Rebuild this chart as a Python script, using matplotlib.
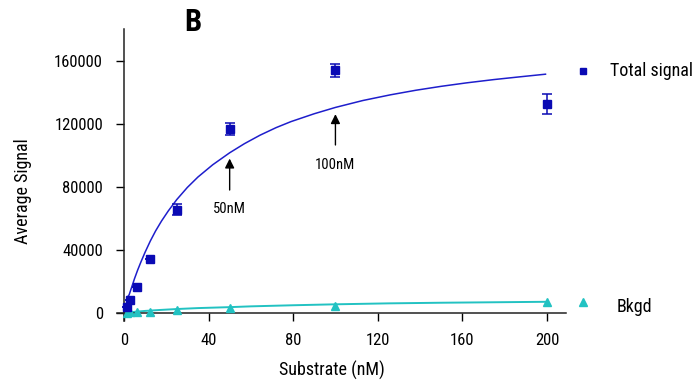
import matplotlib as mpl
import matplotlib.pyplot as plt
from matplotlib import font_manager

# the original uses a narrow sans; take a condensed face if one is installed
names = {f.name for f in font_manager.fontManager.ttflist}
condensed = [f for f in font_manager.fontManager.ttflist
             if f.name == 'DejaVu Sans' and 'condensed' in str(f.stretch)]
narrow = None
for cand in ['Liberation Sans Narrow', 'DejaVu Sans Condensed', 'Roboto Condensed',
             'Open Sans Condensed', 'Noto Sans Condensed']:
    if cand in names:
        narrow = cand
        break
if narrow:
    mpl.rcParams['font.family'] = [narrow, 'DejaVu Sans']
    k = 1.0
elif condensed:
    mpl.rcParams['font.family'] = ['DejaVu Sans']
    mpl.rcParams['font.stretch'] = 'condensed'
    k = 0.92
else:
    mpl.rcParams['font.family'] = ['DejaVu Sans']
    k = 0.82

# substrate concentrations (nM)
substrate = [1.56, 3.125, 6.25, 12.5, 25, 50, 100, 200]
total_signal = [3800, 8400, 16900, 34700, 65800, 117200, 154300, 132900]
total_err = [0, 0, 0, 0, 3500, 3700, 4000, 6100]
bkgd_signal = [300, 500, 800, 900, 2100, 3200, 4600, 7000]

# fitted curves
fit_x = [1.56, 2.5, 3.5, 5, 6.5, 8, 10, 12.5, 15, 17.8, 21, 25, 30, 35, 42, 50, 57,
         64.4, 72, 79, 90, 100, 113, 126, 138, 150, 162, 175, 187, 199.3]
fit_total = [10000, 11800, 15800, 21900, 27400, 32400, 38700, 45900, 52300, 58600,
             65000, 72200, 79900, 86500, 94300, 101900, 107700, 113100, 117900, 121700,
             126700, 130700, 135100, 138700, 141600, 144100, 146300, 148400, 150100,
             151800]
bkgd_fit_x = [1.56, 5, 10, 17, 25, 35, 50, 60, 80, 100, 125, 150, 175, 200]
bkgd_fit = [500, 900, 1500, 2100, 2700, 3300, 3900, 4400, 5100, 5700, 6300, 6700,
            7000, 7300]

blue = '#0a0ab4'
line_blue = '#1e1ecc'
teal = '#22c2c2'

fig = plt.figure(figsize=(7, 3.86), dpi=100)
ax = fig.add_axes([0.167, 0.1692, 0.6416, 0.7557])

ax.plot(fit_x, fit_total, color=line_blue, lw=1.1)
ax.plot(bkgd_fit_x, bkgd_fit, color=teal, lw=1.4)
ax.errorbar(substrate, total_signal, yerr=total_err, fmt='s', color=blue, ms=6,
            capsize=3.5, elinewidth=1.1, capthick=1.1, zorder=4)
ax.plot(substrate, bkgd_signal, '^', color=teal, ms=6, zorder=4)

ax.set_xlim(-3.3, 209)
ax.set_ylim(-4700, 180500)
ax.spines['left'].set_position(('data', 0))
ax.spines['bottom'].set_position(('data', 0))
for s in ['top', 'right']:
    ax.spines[s].set_visible(False)
for s in ['left', 'bottom']:
    ax.spines[s].set_linewidth(1.1)
    ax.spines[s].set_color('#222222')

ax.set_xticks([0, 40, 80, 120, 160, 200])
ax.set_yticks([0, 40000, 80000, 120000, 160000])
ax.tick_params(axis='y', length=6, width=1, pad=9, labelsize=12 * k)
ax.tick_params(axis='x', length=6, width=1, pad=8, labelsize=12 * k)

# arrows marking 50 and 100 nM
for xv, tip, tail, lab_y, lab in [(50, 100000, 76500, 66300, '50nM'),
                                   (100, 128200, 105100, 94300, '100nM')]:
    ax.annotate('', xy=(xv, tip), xytext=(xv, tail),
                arrowprops=dict(arrowstyle='-|>', color='black', lw=1,
                                mutation_scale=14))
    ax.text(xv, lab_y, lab, ha='center', va='center', fontsize=10.5 * k)

# legend drawn by hand, outside the plot area
ax.plot([216.8], [154100], 's', color=blue, ms=5, clip_on=False)
ax.text(230, 153600, 'Total signal', fontsize=13 * k, va='center', ha='left')
ax.plot([216.8], [7200], '^', color=teal, ms=6, clip_on=False)
ax.text(233, 4200, 'Bkgd', fontsize=13 * k, va='center', ha='left')

fig.text(0.474, 0.041, 'Substrate (nM)', ha='center', va='center', fontsize=13 * k)
fig.text(0.033, 0.505, 'Average Signal', ha='center', va='center', rotation=90,
         fontsize=13 * k)
fig.text(0.276, 0.943, 'B', ha='center', va='center', fontsize=22 * k,
         fontweight='bold')

fig.savefig('out.png', dpi=100)
